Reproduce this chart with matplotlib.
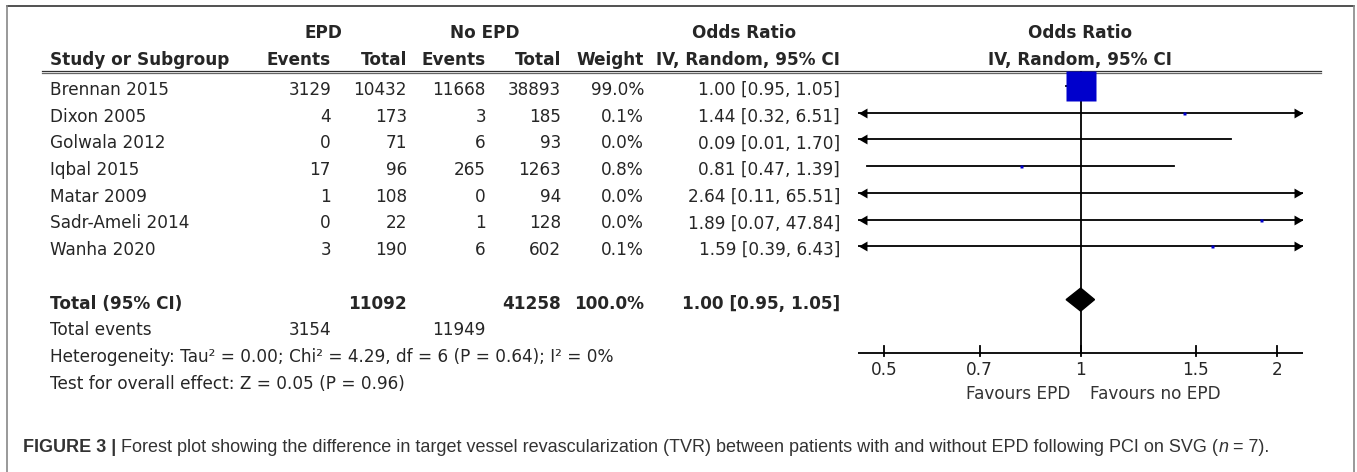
import matplotlib
matplotlib.use("Agg")
import matplotlib.pyplot as plt
from matplotlib.transforms import offset_copy
from matplotlib.patches import Polygon

# ---- data -------------------------------------------------------------
studies = ["Brennan 2015", "Dixon 2005", "Golwala 2012", "Iqbal 2015",
           "Matar 2009", "Sadr-Ameli 2014", "Wanha 2020"]
epd_events = [3129, 4, 0, 17, 1, 0, 3]
epd_total = [10432, 173, 71, 96, 108, 22, 190]
noepd_events = [11668, 3, 6, 265, 0, 1, 6]
noepd_total = [38893, 185, 93, 1263, 94, 128, 602]
weights = [99.0, 0.1, 0.0, 0.8, 0.0, 0.0, 0.1]
odds_ratio = [1.00, 1.44, 0.09, 0.81, 2.64, 1.89, 1.59]
ci_low = [0.95, 0.32, 0.01, 0.47, 0.11, 0.07, 0.39]
ci_high = [1.05, 6.51, 1.70, 1.39, 65.51, 47.84, 6.43]

pooled_or, pooled_low, pooled_high = 1.00, 0.95, 1.05
total_epd, total_noepd, total_weight = 11092, 41258, 100.0
events_epd, events_noepd = 3154, 11949
heterogeneity = "Heterogeneity: Tau\u00b2 = 0.00; Chi\u00b2 = 4.29, df = 6 (P = 0.64); I\u00b2 = 0%"
overall_test = "Test for overall effect: Z = 0.05 (P = 0.96)"

axis_ticks = [0.5, 0.7, 1, 1.5, 2]
tick_labels = ["0.5", "0.7", "1", "1.5", "2"]
x_range = (0.456, 2.19)

# ---- figure -----------------------------------------------------------
W, H, DPI = 1357, 472, 100
fig = plt.figure(figsize=(W / DPI, H / DPI), dpi=DPI)
ax = fig.add_axes([0, 0, 1, 1])
ax.set_xlim(0, W)
ax.set_ylim(H, 0)
ax.axis("off")

FONT = "DejaVu Sans"
CAP_FONT = "Liberation Sans"
FS = 12.2
TXT = "#262626"


def txt(x, y, s, ha="left", bold=False, size=FS, color=TXT, axes=None):
    (axes or ax).text(x, y, s, ha=ha, va="center", fontsize=size, family=FONT,
                      fontweight="bold" if bold else "normal", color=color)


# outer frame
ax.plot([7, 1354], [6, 6], color="#333333", lw=1.2)
ax.plot([7, 7], [6, H], color="#888888", lw=1.2)
ax.plot([1354, 1354], [6, H], color="#888888", lw=1.2)

# column right edges
c_epd_ev, c_epd_tot = 331, 407
c_no_ev, c_no_tot = 486, 561
c_weight, c_ci = 644, 840
left = 50

# headers
y_h1, y_h2 = 33, 60
txt(323, y_h1, "EPD", ha="center", bold=True)
txt(485, y_h1, "No EPD", ha="center", bold=True)
txt(744, y_h1, "Odds Ratio", ha="center", bold=True)
txt(1080, y_h1, "Odds Ratio", ha="center", bold=True)
txt(left, y_h2, "Study or Subgroup", bold=True)
txt(c_epd_ev, y_h2, "Events", ha="right", bold=True)
txt(c_epd_tot, y_h2, "Total", ha="right", bold=True)
txt(c_no_ev, y_h2, "Events", ha="right", bold=True)
txt(c_no_tot, y_h2, "Total", ha="right", bold=True)
txt(c_weight, y_h2, "Weight", ha="right", bold=True)
txt(c_ci, y_h2, "IV, Random, 95% CI", ha="right", bold=True)
txt(1080, y_h2, "IV, Random, 95% CI", ha="center", bold=True)

# double rule under the header
ax.plot([42, 1321], [70.5, 70.5], color="#333333", lw=0.9)
ax.plot([42, 1321], [72.8, 72.8], color="#666666", lw=0.9)

# all table rows share one spacing; a blank row separates studies and totals
row0, step = 90, 26.7
row_y = [row0 + step * i for i in range(len(studies))]
y_tot = row0 + step * (len(studies) + 1)
y_ev, y_het, y_test = (y_tot + step * k for k in (1, 2, 3))

for i, name in enumerate(studies):
    y = row_y[i]
    txt(left, y, name)
    txt(c_epd_ev, y, f"{epd_events[i]}", ha="right")
    txt(c_epd_tot, y, f"{epd_total[i]}", ha="right")
    txt(c_no_ev, y, f"{noepd_events[i]}", ha="right")
    txt(c_no_tot, y, f"{noepd_total[i]}", ha="right")
    txt(c_weight, y, f"{weights[i]:.1f}%", ha="right")
    txt(c_ci, y, f"{odds_ratio[i]:.2f} [{ci_low[i]:.2f}, {ci_high[i]:.2f}]", ha="right")

# totals and footnotes
txt(left, y_tot, "Total (95% CI)", bold=True)
txt(c_epd_tot, y_tot, f"{total_epd}", ha="right", bold=True)
txt(c_no_tot, y_tot, f"{total_noepd}", ha="right", bold=True)
txt(c_weight, y_tot, f"{total_weight:.1f}%", ha="right", bold=True)
txt(c_ci, y_tot, f"{pooled_or:.2f} [{pooled_low:.2f}, {pooled_high:.2f}]", ha="right", bold=True)
txt(left, y_ev, "Total events")
txt(c_epd_ev, y_ev, f"{events_epd}", ha="right")
txt(c_no_ev, y_ev, f"{events_noepd}", ha="right")
txt(left, y_het, heterogeneity)
txt(left, y_test, overall_test)

# ---- forest panel ------------------------------------------------------
x0, x1 = 858, 1303
pax = fig.add_axes([x0 / W, 0, (x1 - x0) / W, 1])
pax.set_xscale("log")
pax.set_xlim(*x_range)
pax.set_ylim(H, 0)
pax.axis("off")
pax.patch.set_alpha(0)

LW = 1.3
y_axis = 353
pax.plot([1, 1], [72, y_axis], color="black", lw=LW, zorder=1)
pax.plot(list(x_range), [y_axis, y_axis], color="black", lw=LW)
for t, lab in zip(axis_ticks, tick_labels):
    pax.plot([t, t], [346, 356], color="black", lw=LW)
    txt(t, 370, lab, ha="center", axes=pax)

txt(1070, 394, "Favours EPD", ha="right", color="#333333")
txt(1090, 394, "Favours no EPD", ha="left", color="#333333")

# arrow heads for intervals running past the axis
head_ms = 9.5
left_head = [(-1, 0), (0.3, 0.75), (0.3, -0.75), (-1, 0)]
right_head = [(1, 0), (-0.3, 0.75), (-0.3, -0.75), (1, 0)]
to_right = offset_copy(pax.transData, fig=fig, x=head_ms / 2, units="points")
to_left = offset_copy(pax.transData, fig=fig, x=-head_ms / 2, units="points")

BLUE = "#0000CC"
for i in range(len(studies)):
    y = row_y[i] - 4
    lo = max(ci_low[i], x_range[0])
    hi = min(ci_high[i], x_range[1])
    pax.plot([lo, hi], [y, y], color="black", lw=LW, zorder=2)
    if ci_low[i] < x_range[0]:
        pax.plot([x_range[0]], [y], marker=left_head, ms=head_ms, color="black",
                 mec="none", transform=to_right, zorder=3)
    if ci_high[i] > x_range[1]:
        pax.plot([x_range[1]], [y], marker=right_head, ms=head_ms, color="black",
                 mec="none", transform=to_left, zorder=3)
    if x_range[0] <= odds_ratio[i] <= x_range[1]:
        side_px = max(30 * (weights[i] / 99.0) ** 0.5, 3)
        pax.plot([odds_ratio[i]], [y], marker="s", ms=side_px * 72 / DPI,
                 color=BLUE, mec="none", zorder=4)

# pooled diamond
yd = y_tot - 4
pax.add_patch(Polygon([(pooled_low, yd), (pooled_or, yd - 11.5),
                       (pooled_high, yd), (pooled_or, yd + 11.5)],
                      closed=True, color="black", zorder=4))

# ---- caption -------------------------------------------------------------
cap_runs = [
    ("FIGURE 3 | ", "bold", "normal"),
    ("Forest plot showing the difference in target vessel revascularization (TVR) "
     "between patients with and without EPD following PCI on SVG (", "normal", "normal"),
    ("n", "normal", "italic"),
    (" = 7).", "normal", "normal"),
]
cap_x, cap_y, cap_w = 23, 448, 1240
renderer = fig.canvas.get_renderer()


def run_widths(size):
    ws = []
    for s, wt, st in cap_runs:
        t = ax.text(0, 0, s, fontsize=size, family=CAP_FONT, fontweight=wt, fontstyle=st)
        ws.append(t.get_window_extent(renderer=renderer).width)
        t.remove()
    return ws


cap_size = 13.0
cap_size *= cap_w / sum(run_widths(cap_size))
x = cap_x
for (s, wt, st), w in zip(cap_runs, run_widths(cap_size)):
    ax.text(x, cap_y, s, fontsize=cap_size, family=CAP_FONT, fontweight=wt,
            fontstyle=st, color="#333333", va="center", ha="left")
    x += w

fig.savefig("out.png", dpi=DPI)
